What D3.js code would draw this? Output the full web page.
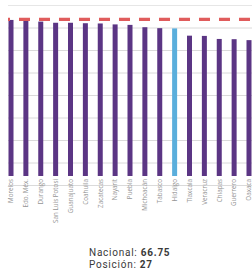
<!DOCTYPE html>
<html>
<head>
<meta charset="utf-8">
<script src="https://cdn.jsdelivr.net/npm/d3@7"></script>
<style>
  body { margin: 0; background: #fff; }
  svg { display: block; }
</style>
</head>
<body>
<div id="chart"></div>
<script>
var estados = ["Morelos", "Edo. Méx.", "Durango", "San Luis Potosí", "Guanajuato", "Coahuila",
  "Zacatecas", "Nayarit", "Puebla", "Michoacán", "Tabasco", "Hidalgo", "Tlaxcala",
  "Veracruz", "Chiapas", "Guerrero", "Oaxaca"];
var valores = [66.5, 66.1, 65.8, 65.3, 65.3, 65.1, 65.0, 64.6, 64.4, 63.4, 63.0, 62.9,
  59.8, 59.7, 58.4, 58.3, 57.9];
var destacado = "Hidalgo";
var nacional = 66.75;
var posicion = 27;
var gridSteps = [0, 1, 2, 3, 4, 5, 6, 7, 8];

var width = 252, height = 276;

var svg = d3.select("#chart").append("svg")
  .attr("width", width)
  .attr("height", height);

var x = d3.scalePoint().domain(estados).range([11, 249]);
var y = d3.scaleLinear().domain([0, 75]).range([176, 0]);
var grid = d3.scaleLinear().domain([0, 8]).range([5.5, 185.5]);
var barW = 5;

// horizontal guide lines
svg.append("g").selectAll("line")
  .data(gridSteps)
  .join("line")
  .attr("x1", 8)
  .attr("x2", width)
  .attr("y1", function(d){ return grid(d); })
  .attr("y2", function(d){ return grid(d); })
  .style("stroke", function(d){ return d == 0 ? "#e6e6e6" : "#dadada"; })
  .style("stroke-width", 1);

// bars
svg.append("g").selectAll("rect")
  .data(valores)
  .join("rect")
  .attr("x", function(d, i){ return x(estados[i]) - barW / 2; })
  .attr("y", function(d){ return y(d); })
  .attr("width", barW)
  .attr("height", function(d){ return y(0) - y(d); })
  .style("fill", function(d, i){ return estados[i] == destacado ? "#5aaedc" : "#5b3584"; });

// national average
svg.append("line")
  .attr("x1", 8)
  .attr("x2", width)
  .attr("y1", y(nacional))
  .attr("y2", y(nacional))
  .style("stroke", "#e05c5c")
  .style("stroke-width", 3.3)
  .style("stroke-dasharray", "11,9")
  .style("stroke-dashoffset", 9);

// category labels
svg.append("g").selectAll("text")
  .data(estados)
  .join("text")
  .attr("transform", function(d){ return "translate(" + (x(d) + 2.3) + "," + 179 + ") rotate(-90)"; })
  .attr("text-anchor", "end")
  .style("font-family", "'Open Sans', sans-serif")
  .style("font-size", "6.3px")
  .style("fill", "#959595")
  .text(function(d){ return d; });

// summary
var info = svg.append("g")
  .style("font-family", "Roboto, sans-serif")
  .style("font-size", "10px")
  .style("letter-spacing", "0.75px")
  .style("fill", "#3a3a3a");

var t1 = info.append("text").attr("x", 89).attr("y", 255.5);
t1.append("tspan").text("Nacional: ");
t1.append("tspan").style("font-weight", "bold").text(nacional);

var t2 = info.append("text").attr("x", 89).attr("y", 267.5);
t2.append("tspan").text("Posición: ");
t2.append("tspan").style("font-weight", "bold").text(posicion);
</script>
</body>
</html>
